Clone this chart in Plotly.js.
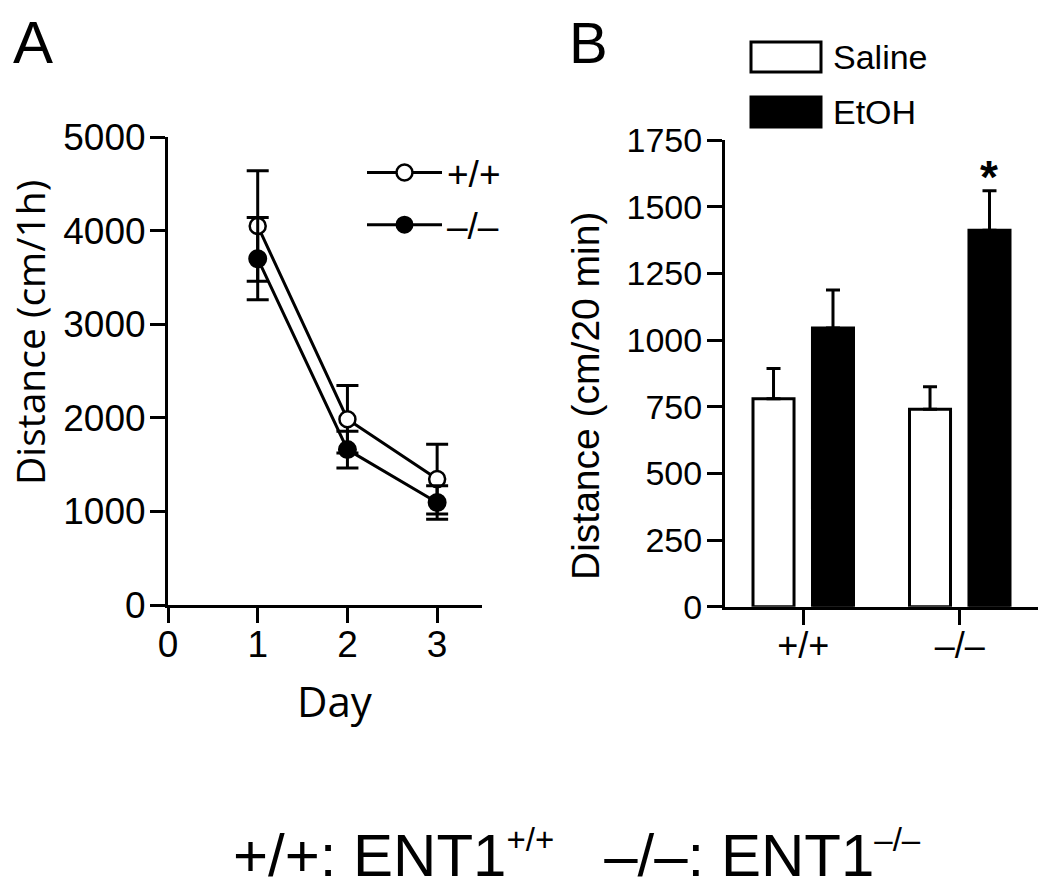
<!DOCTYPE html>
<html>
<head>
<meta charset="utf-8">
<script src="https://cdn.plot.ly/plotly-3.0.1.min.js"></script>
<style>html,body{margin:0;padding:0;background:#fff;}#chart{width:1050px;height:894px;}</style>
</head>
<body>
<div id="chart"></div>
<script>
// Panel A: distance per day
const days = [1, 2, 3];
const wtDistance = [4050, 1985, 1345];
const wtError = [590, 360, 372];
const koDistance = [3700, 1660, 1095];
const koError = [440, 195, 178];
const dayTicks = [0, 1, 2, 3];
const distTicksA = [0, 1000, 2000, 3000, 4000, 5000];

// Panel B: distance after injection
const genotypes = ['+/+', '–/–'];
const salineDistance = [780, 740];
const salineError = [113, 85];
const etohDistance = [1045, 1412];
const etohError = [143, 148];
const distTicksB = [0, 250, 500, 750, 1000, 1250, 1500, 1750];

const W = 1050, H = 894;
const px = v => v / W;
const py = v => (H - v) / H;

const baseFont = 'Liberation Sans, Arial, Helvetica, sans-serif';
const altFont = 'Open Sans, Liberation Sans, sans-serif';

const traces = [
  {
    x: days, y: wtDistance, type: 'scatter', mode: 'lines+markers', name: '+/+',
    xaxis: 'x', yaxis: 'y', legendgroup: 'a',
    line: {color: '#000', width: 3},
    marker: {symbol: 'circle', size: 16, color: '#fff', line: {color: '#000', width: 2.5}},
    error_y: {type: 'data', array: wtError, visible: true, color: '#000', thickness: 3, width: 11}
  },
  {
    x: days, y: koDistance, type: 'scatter', mode: 'lines+markers', name: '–/–',
    xaxis: 'x', yaxis: 'y', legendgroup: 'b',
    line: {color: '#000', width: 3},
    marker: {symbol: 'circle', size: 17, color: '#000', line: {color: '#000', width: 2}},
    error_y: {type: 'data', array: koError, visible: true, color: '#000', thickness: 3, width: 11}
  },
  {
    x: genotypes, y: salineDistance, type: 'bar', name: 'Saline', showlegend: false,
    xaxis: 'x2', yaxis: 'y2',
    marker: {color: '#fff', line: {color: '#000', width: 3}},
    error_y: {type: 'data', array: salineError, arrayminus: [0, 0], symmetric: false, visible: true, color: '#000', thickness: 3, width: 7}
  },
  {
    x: genotypes, y: etohDistance, type: 'bar', name: 'EtOH', showlegend: false,
    xaxis: 'x2', yaxis: 'y2',
    marker: {color: '#000', line: {color: '#000', width: 3}},
    error_y: {type: 'data', array: etohError, arrayminus: [0, 0], symmetric: false, visible: true, color: '#000', thickness: 3, width: 7}
  }
];

const axisCommon = {
  showline: true, linecolor: '#000', linewidth: 3,
  ticks: 'outside', ticklen: 15, tickwidth: 3, tickcolor: '#000',
  showgrid: false, zeroline: false, fixedrange: true
};

const layout = {
  width: W, height: H,
  margin: {l: 0, r: 0, t: 0, b: 0},
  paper_bgcolor: '#fff', plot_bgcolor: 'rgba(0,0,0,0)',
  font: {family: baseFont, color: '#000'},
  barmode: 'group', bargap: 0.24, bargroupgap: 0.31,
  xaxis: Object.assign({}, axisCommon, {
    domain: [px(168), px(482)], range: [0, 3.5],
    tickmode: 'array', tickvals: dayTicks, ticklabelstandoff: -10,
    tickfont: {size: 37, family: baseFont}, anchor: 'y'
  }),
  yaxis: Object.assign({}, axisCommon, {
    domain: [py(605), py(137)], range: [0, 5000],
    tickmode: 'array', tickvals: distTicksA, ticklabelstandoff: -3,
    tickfont: {size: 37, family: baseFont}, anchor: 'x'
  }),
  xaxis2: Object.assign({}, axisCommon, {
    domain: [px(725), px(1038)], range: [-0.5, 1.5], type: 'category',
    ticklabelstandoff: -10,
    tickfont: {size: 36, family: baseFont}, anchor: 'y2'
  }),
  yaxis2: Object.assign({}, axisCommon, {
    domain: [py(606.7), py(140)], range: [0, 1750],
    tickmode: 'array', tickvals: distTicksB, ticklabelstandoff: -2,
    tickfont: {size: 34, family: baseFont}, anchor: 'x2'
  }),
  showlegend: true,
  legend: {
    x: px(362), y: py(142), xanchor: 'left', yanchor: 'top',
    font: {size: 37, family: baseFont, color: '#000'},
    itemwidth: 75, traceorder: 'grouped', tracegroupgap: 1,
    bgcolor: 'rgba(0,0,0,0)', borderwidth: 0
  },
  shapes: [
    {type: 'rect', xref: 'paper', yref: 'paper', x0: px(751), x1: px(821), y0: py(72), y1: py(42),
     line: {color: '#000', width: 3}, fillcolor: '#fff'},
    {type: 'rect', xref: 'paper', yref: 'paper', x0: px(751), x1: px(821), y0: py(127), y1: py(97),
     line: {color: '#000', width: 3}, fillcolor: '#000'}
  ],
  annotations: [
    {text: 'A', xref: 'paper', yref: 'paper', x: px(33), y: py(42), xanchor: 'center', yanchor: 'middle',
     showarrow: false, font: {size: 60, family: baseFont}},
    {text: 'B', xref: 'paper', yref: 'paper', x: px(588), y: py(43), xanchor: 'center', yanchor: 'middle',
     showarrow: false, font: {size: 58, family: baseFont}},
    {text: 'Distance (cm/1h)', xref: 'paper', yref: 'paper', x: px(30), y: py(333), xanchor: 'center', yanchor: 'middle',
     textangle: -90, showarrow: false, font: {size: 39, family: altFont}},
    {text: 'Day', xref: 'paper', yref: 'paper', x: px(335), y: py(700), xanchor: 'center', yanchor: 'middle',
     showarrow: false, font: {size: 42, family: altFont}},
    {text: 'Distance (cm/20 min)', xref: 'paper', yref: 'paper', x: px(585), y: py(396), xanchor: 'center', yanchor: 'middle',
     textangle: -90, showarrow: false, font: {size: 39, family: baseFont}},
    {text: 'Saline', xref: 'paper', yref: 'paper', x: px(831), y: py(57), xanchor: 'left', yanchor: 'middle',
     showarrow: false, font: {size: 34, family: baseFont}},
    {text: 'EtOH', xref: 'paper', yref: 'paper', x: px(831), y: py(112), xanchor: 'left', yanchor: 'middle',
     showarrow: false, font: {size: 34, family: baseFont}},
    {text: '*', xref: 'x2', yref: 'y2', x: genotypes[1], xshift: 29.5, y: 1610, xanchor: 'center', yanchor: 'middle',
     showarrow: false, font: {size: 46, family: baseFont, weight: 'bold'}},
    {text: '+/+: ENT1<sup><span style="font-size:33px">+/+</span></sup>   –/–: ENT1<sup><span style="font-size:33px">–/–</span></sup>',
     xref: 'paper', yref: 'paper', x: px(577), y: py(855),
     xanchor: 'center', yanchor: 'middle', showarrow: false, font: {size: 60, family: baseFont}}
  ]
};

Plotly.newPlot('chart', traces, layout, {displayModeBar: false, staticPlot: true});
</script>
</body>
</html>
